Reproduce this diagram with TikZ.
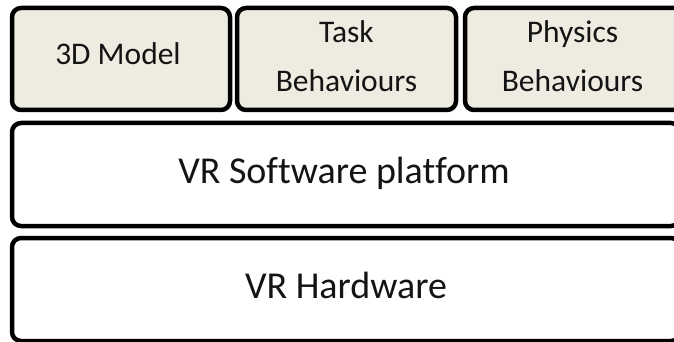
\documentclass[tikz,border=0pt]{standalone}
\usepackage{fontspec}
\setmainfont[Ligatures=CommonOff]{Carlito}
\definecolor{paneltan}{RGB}{238,236,225}
\definecolor{inkdark}{RGB}{20,20,20}
\begin{document}
\begin{tikzpicture}[x=1pt,y=-1pt,
  layerbox/.style={draw=black,line width=4.5pt,rounded corners=9pt},
  modulebox/.style={layerbox,fill=paneltan},
  platformbox/.style={layerbox,fill=white},
  modtext/.style={anchor=base,inner sep=0pt,text=inkdark,font=\fontsize{31.5}{36}\selectfont},
  laytext/.style={anchor=base,inner sep=0pt,text=inkdark,font=\fontsize{38}{44}\selectfont}]
  \useasboundingbox (0,0) rectangle (674,342);
  \begin{scope}
    \clip (0,0) rectangle (674,342);
    % application modules on top
    \draw[modulebox] (12,8) rectangle (230,110);
    \draw[modulebox] (237,8) rectangle (456,110);
    \draw[modulebox] (465,8) rectangle (692,110);
    % software and hardware layers
    \draw[platformbox] (12,123) rectangle (680,226);
    \draw[platformbox] (12,238) rectangle (680,341);
  \end{scope}
  % labels
  \node[modtext] (model) at (118,65) {3D Model};
  \node[modtext] (task1) at (346.5,43) {Task};
  \node[modtext] (task2) at (346.5,92) {Behaviours};
  \node[modtext] (phys1) at (572.5,43) {Physics};
  \node[modtext] (phys2) at (572.5,92) {Behaviours};
  \node[laytext] (soft) at (344,183) {VR Software platform};
  \node[laytext] (hard) at (346,298) {VR Hardware};
\end{tikzpicture}
\end{document}
